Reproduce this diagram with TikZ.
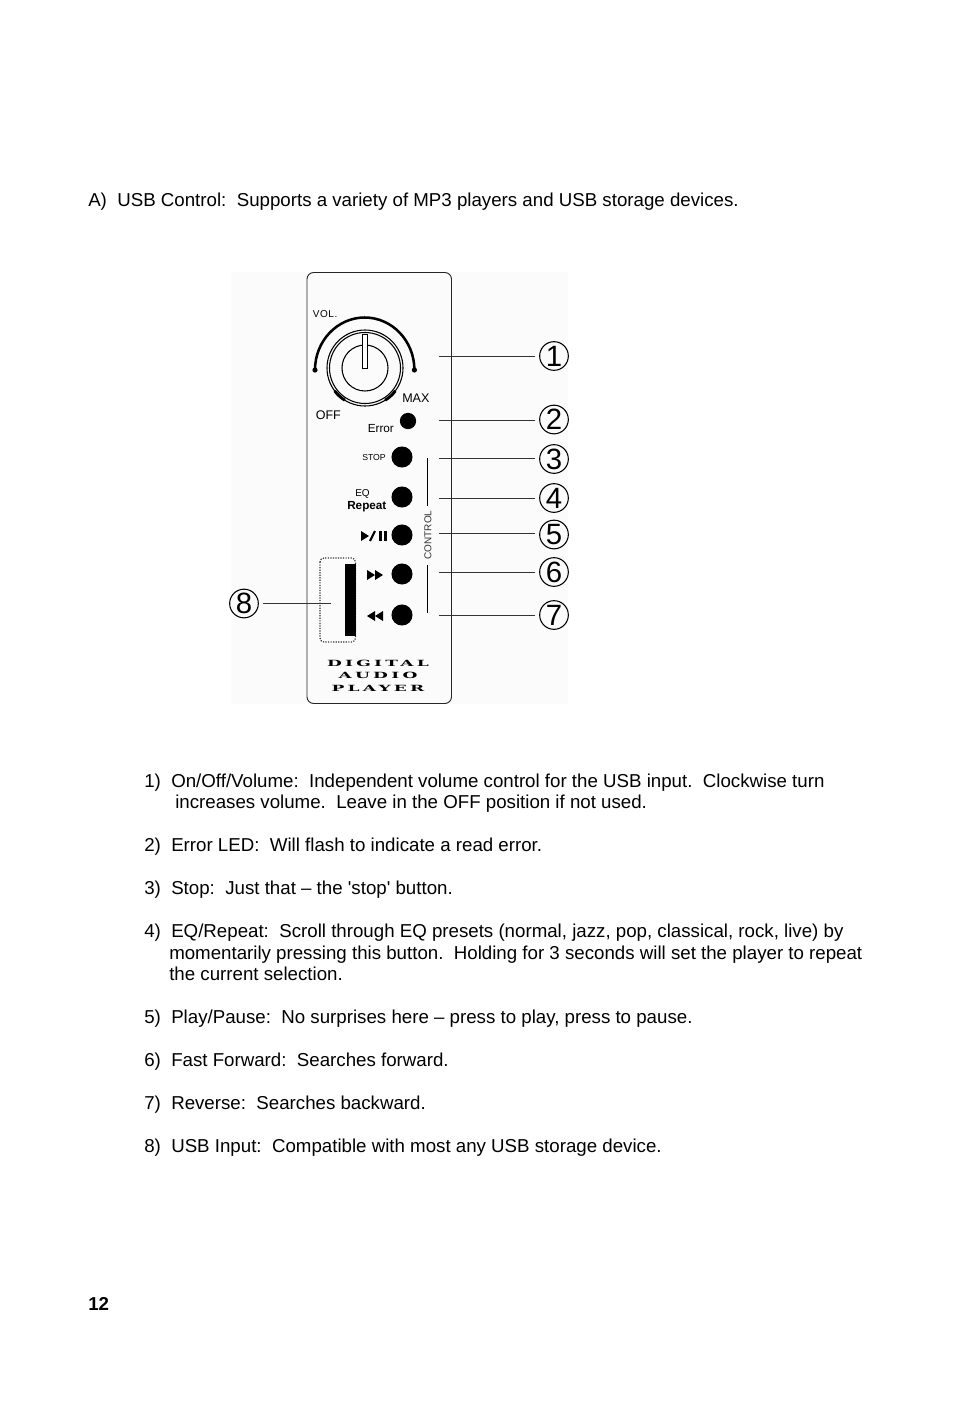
\documentclass[tikz,border=0pt]{standalone}
\usepackage{fontspec}
\setmainfont{Liberation Sans}
\newfontfamily\plainf{Liberation Sans}
\newfontfamily\widefont[LetterSpace=38,FakeStretch=2.0]{DejaVu Serif}
\usetikzlibrary{shapes.geometric}
\tikzset{
  x=0.75pt,y=-0.75pt,
  body/.style={anchor=base west,inner sep=0pt,font=\fontsize{14.02}{16}\selectfont},
  callout/.style={circle,draw=black,line width=0.8pt,minimum size=21.5pt,inner sep=0pt,font=\fontsize{22}{24}\selectfont},
  leader/.style={draw=black!80,line width=0.7pt},
  btn/.style={circle,fill=black,inner sep=0pt,minimum size=15.8pt},
  tiny/.style={inner sep=0pt,font=\fontsize{7}{8}\selectfont},
  player/.style={inner sep=0pt,font=\widefont\bfseries\fontsize{6.4}{8}\selectfont},
}
\begin{document}
\begin{tikzpicture}
\useasboundingbox (0,0) rectangle (954,1403);
\fill[white] (0,0) rectangle (954,1403);
\fill[black!1.5] (231,272) rectangle (568,704);
% text
\node[body] (ta) at (88,206) {A)~~USB Control:~~Supports a variety of MP3 players and USB storage devices.};
\node[body] (t1) at (144,787) {1)~~On/Off/Volume:~~Independent volume control for the USB input.~~Clockwise turn};
\node[body] (t1b) at (175,808) {increases volume.~~Leave in the OFF position if not used.};
\node[body] (t2) at (144,851) {2)~~Error LED:~~Will flash to indicate a read error.};
\node[body] (t3) at (144,894) {3)~~Stop:~~Just that -- the {\plainf 'stop'} button.};
\node[body] (t4) at (144,937) {4)~~EQ/Repeat:~~Scroll through EQ presets (normal, jazz, pop, classical, rock, live) by};
\node[body] (t4b) at (169,959) {momentarily pressing this button.~~Holding for 3 seconds will set the player to repeat};
\node[body] (t4c) at (169,980) {the current selection.};
\node[body] (t5) at (144,1023) {5)~~Play/Pause:~~No surprises here -- press to play, press to pause.};
\node[body] (t6) at (144,1066) {6)~~Fast Forward:~~Searches forward.};
\node[body] (t7) at (144,1109) {7)~~Reverse:~~Searches backward.};
\node[body] (t8) at (144,1152) {8)~~USB Input:~~Compatible with most any USB storage device.};
\node[body,font=\fontsize{14.02}{16}\selectfont\bfseries] (pg) at (88,1310) {12};
% panel
\draw[black!85,line width=0.7pt,rounded corners=5pt] (307,272.5) rectangle (451.5,703.5);
% knob
\draw[line width=1.9pt] (315,370) arc[start angle=180,end angle=360,x radius=49.7,y radius=52.5];
\fill (315,370) circle (2.6);
\fill (414.4,370) circle (2.6);
\draw[line width=0.8pt] (365,368) circle (38);
\draw[line width=0.8pt] (365,368) circle (35.5);
\draw[line width=0.8pt] (365,368) circle (23);
\draw[line width=0.7pt,fill=white] (362,334) rectangle (367.5,368);
\draw[line width=2.2pt] (365,368)++(143:38) arc[start angle=143,end angle=122,radius=38];
\draw[line width=2.2pt] (365,368)++(37:38) arc[start angle=37,end angle=58,radius=38];
\node[tiny,font=\plainf\addfontfeature{LetterSpace=6}\fontsize{7.5}{8}\selectfont,anchor=base west] (vol) at (312.5,317) {VOL.};
\node[tiny,font=\fontsize{9.4}{10}\selectfont,anchor=base west] (max) at (402,402) {MAX};
\node[tiny,font=\fontsize{9.4}{10}\selectfont,anchor=base west] (off) at (315.5,419) {OFF};
\node[tiny,font=\fontsize{8.8}{10}\selectfont,anchor=base west] (err) at (367.5,432) {Error};
\node[tiny,font=\fontsize{6.5}{8}\selectfont,anchor=base west] (stop) at (362,460) {STOP};
\node[tiny,font=\fontsize{7.5}{8}\selectfont,anchor=base west] (eq) at (355,496) {EQ};
\node[tiny,font=\fontsize{8.8}{9}\selectfont\bfseries,anchor=base west] (rep) at (347,509) {Repeat};
% buttons
\node[btn,minimum size=12.2pt] (b2) at (408,421) {};
\node[btn] (b3) at (402,457) {};
\node[btn] (b4) at (402,497) {};
\node[btn] (b5) at (402,535) {};
\node[btn] (b6) at (402,574) {};
\node[btn] (b7) at (402,615) {};
% play/pause symbols
\fill (361,531) -- (369,536) -- (361,541) -- cycle;
\draw[line width=1.6pt] (370,541) -- (375,531);
\fill (378.5,531) rectangle (381.5,541);
\fill (384,531) rectangle (387,541);
\fill (367,570) -- (375,575) -- (367,580) -- cycle;
\fill (375,570) -- (383,575) -- (375,580) -- cycle;
\fill (375,611) -- (367,616) -- (375,621) -- cycle;
\fill (383,611) -- (375,616) -- (383,621) -- cycle;
% control
\draw[line width=1.3pt] (427.5,458) -- (427.5,506);
\draw[line width=1.3pt] (427.5,565) -- (427.5,613);
\node[tiny,font=\fontsize{7.5}{8}\selectfont,rotate=90,text=black!80] (ctl) at (428,535) {CONTROL};
% usb
\draw[black!80,line width=0.9pt,densely dotted,rounded corners=3pt] (320,558) rectangle (355.5,642);
\fill (345,564) rectangle (355.5,636);
% player text
\node[player] (p1) at (378,663) {DIGITAL};
\node[player] (p2) at (378,675) {AUDIO};
\node[player] (p3) at (378,688) {PLAYER};
% callouts
\node[callout] (c1) at (554,356) {1};
\node[callout] (c2) at (554,419.5) {2};
\node[callout] (c3) at (554,459) {3};
\node[callout] (c4) at (554,498) {4};
\node[callout] (c5) at (554,534.5) {5};
\node[callout] (c6) at (554,572) {6};
\node[callout] (c7) at (554,615) {7};
\node[callout] (c8) at (244,603.5) {8};
\coordinate (e1) at (439,356);
\coordinate (e2) at (439,420);
\coordinate (e3) at (439,458);
\coordinate (e4) at (439,498);
\coordinate (e5) at (439,533);
\coordinate (e6) at (439,572);
\coordinate (e7) at (439,615);
\coordinate (e8) at (331,603);
\foreach \i in {1,...,7}{\draw[leader] (e\i) -- ([xshift=-3pt]c\i.west |- e\i);}
\draw[leader] ([xshift=3pt]c8.east |- e8) -- (e8);
\end{tikzpicture}
\end{document}
